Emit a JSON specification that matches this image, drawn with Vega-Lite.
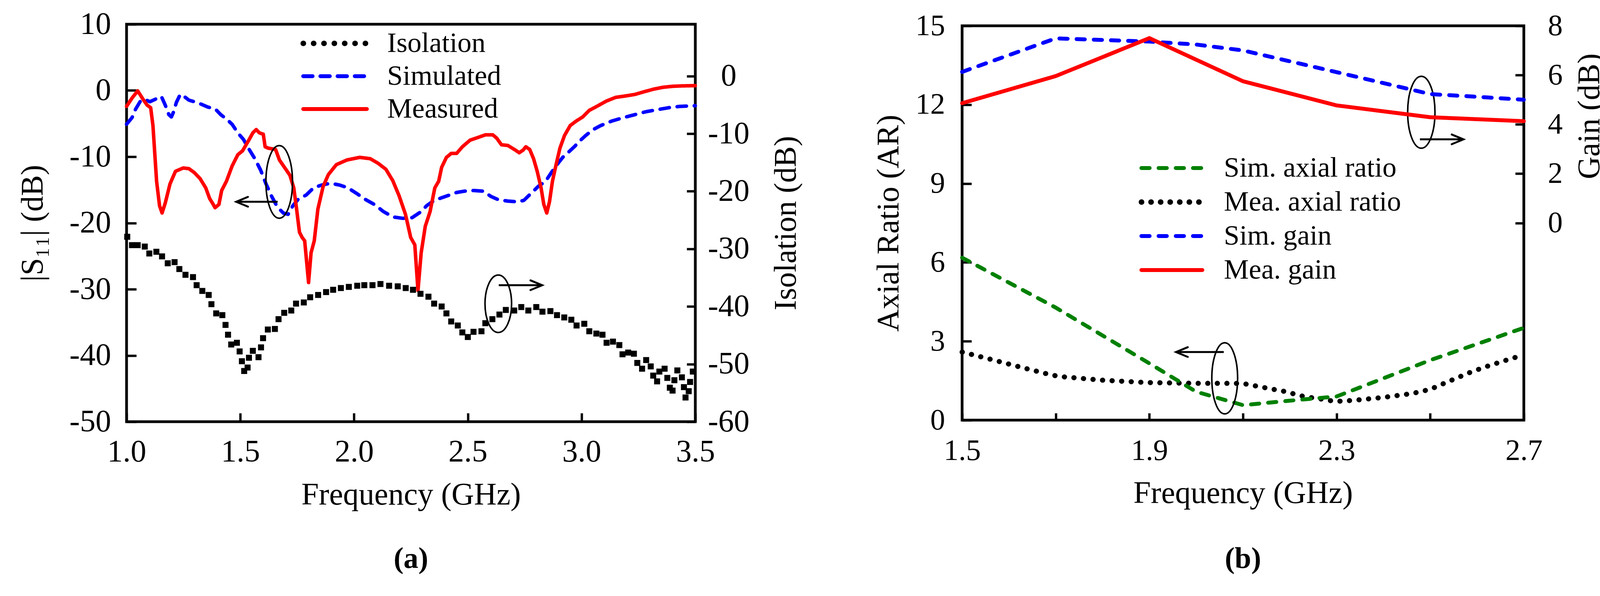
{
  "$schema": "https://vega.github.io/schema/vega-lite/v6.json",
  "background": "white",
  "padding": {"left": 40, "top": 18, "right": 90, "bottom": 80},
  "config": {
    "font": "Liberation Serif",
    "view": {"stroke": "black", "strokeWidth": 7},
    "axis": {
      "grid": false, "domain": false, "tickColor": "black", "tickWidth": 6,
      "labelColor": "black", "titleColor": "black", "labelFont": "Liberation Serif",
      "titleFont": "Liberation Serif", "titleFontWeight": "normal", "labelFontSize": 80,
      "titleFontSize": 80, "labelFlush": false, "labelOverlap": false, "labelBound": false
    },
    "legend": {"labelFont": "Liberation Serif", "labelColor": "black", "labelLimit": 0, "padding": 0},
    "title": {"font": "Liberation Serif", "color": "black"}
  },
  "datasets": {
    "s11": [
      {"series": "Simulated", "freq": 1.0, "s11": -5.1},
      {"series": "Simulated", "freq": 1.024, "s11": -4.1},
      {"series": "Simulated", "freq": 1.04, "s11": -2.8},
      {"series": "Simulated", "freq": 1.061, "s11": -1.6},
      {"series": "Simulated", "freq": 1.082, "s11": -1.36},
      {"series": "Simulated", "freq": 1.102, "s11": -1.7},
      {"series": "Simulated", "freq": 1.124, "s11": -1.36},
      {"series": "Simulated", "freq": 1.153, "s11": -0.9},
      {"series": "Simulated", "freq": 1.17, "s11": -2.2},
      {"series": "Simulated", "freq": 1.186, "s11": -3.65},
      {"series": "Simulated", "freq": 1.197, "s11": -4.0},
      {"series": "Simulated", "freq": 1.207, "s11": -3.2},
      {"series": "Simulated", "freq": 1.219, "s11": -1.8},
      {"series": "Simulated", "freq": 1.236, "s11": -0.6},
      {"series": "Simulated", "freq": 1.253, "s11": -0.9},
      {"series": "Simulated", "freq": 1.274, "s11": -1.46},
      {"series": "Simulated", "freq": 1.298, "s11": -1.7},
      {"series": "Simulated", "freq": 1.323, "s11": -2.0},
      {"series": "Simulated", "freq": 1.357, "s11": -2.5},
      {"series": "Simulated", "freq": 1.39, "s11": -2.8},
      {"series": "Simulated", "freq": 1.414, "s11": -3.65},
      {"series": "Simulated", "freq": 1.439, "s11": -4.3},
      {"series": "Simulated", "freq": 1.464, "s11": -5.1},
      {"series": "Simulated", "freq": 1.489, "s11": -6.4},
      {"series": "Simulated", "freq": 1.514, "s11": -7.4},
      {"series": "Simulated", "freq": 1.539, "s11": -8.9},
      {"series": "Simulated", "freq": 1.564, "s11": -10.3},
      {"series": "Simulated", "freq": 1.589, "s11": -12.0},
      {"series": "Simulated", "freq": 1.613, "s11": -14.1},
      {"series": "Simulated", "freq": 1.638, "s11": -16.0},
      {"series": "Simulated", "freq": 1.663, "s11": -17.6},
      {"series": "Simulated", "freq": 1.689, "s11": -18.5},
      {"series": "Simulated", "freq": 1.71, "s11": -18.7},
      {"series": "Simulated", "freq": 1.731, "s11": -17.4},
      {"series": "Simulated", "freq": 1.755, "s11": -16.4},
      {"series": "Simulated", "freq": 1.789, "s11": -15.8},
      {"series": "Simulated", "freq": 1.822, "s11": -14.7},
      {"series": "Simulated", "freq": 1.855, "s11": -14.3},
      {"series": "Simulated", "freq": 1.897, "s11": -14.0},
      {"series": "Simulated", "freq": 1.939, "s11": -14.3},
      {"series": "Simulated", "freq": 1.973, "s11": -14.7},
      {"series": "Simulated", "freq": 2.014, "s11": -15.6},
      {"series": "Simulated", "freq": 2.047, "s11": -16.4},
      {"series": "Simulated", "freq": 2.089, "s11": -17.2},
      {"series": "Simulated", "freq": 2.13, "s11": -18.3},
      {"series": "Simulated", "freq": 2.172, "s11": -19.1},
      {"series": "Simulated", "freq": 2.214, "s11": -19.3},
      {"series": "Simulated", "freq": 2.255, "s11": -19.2},
      {"series": "Simulated", "freq": 2.294, "s11": -18.3},
      {"series": "Simulated", "freq": 2.319, "s11": -17.4},
      {"series": "Simulated", "freq": 2.352, "s11": -16.6},
      {"series": "Simulated", "freq": 2.385, "s11": -16.2},
      {"series": "Simulated", "freq": 2.418, "s11": -15.8},
      {"series": "Simulated", "freq": 2.451, "s11": -15.4},
      {"series": "Simulated", "freq": 2.485, "s11": -15.2},
      {"series": "Simulated", "freq": 2.527, "s11": -15.1},
      {"series": "Simulated", "freq": 2.568, "s11": -15.2},
      {"series": "Simulated", "freq": 2.602, "s11": -16.0},
      {"series": "Simulated", "freq": 2.635, "s11": -16.5},
      {"series": "Simulated", "freq": 2.676, "s11": -16.7},
      {"series": "Simulated", "freq": 2.717, "s11": -16.8},
      {"series": "Simulated", "freq": 2.746, "s11": -16.6},
      {"series": "Simulated", "freq": 2.776, "s11": -15.6},
      {"series": "Simulated", "freq": 2.809, "s11": -14.5},
      {"series": "Simulated", "freq": 2.842, "s11": -13.7},
      {"series": "Simulated", "freq": 2.867, "s11": -12.4},
      {"series": "Simulated", "freq": 2.892, "s11": -11.2},
      {"series": "Simulated", "freq": 2.917, "s11": -10.1},
      {"series": "Simulated", "freq": 2.943, "s11": -9.3},
      {"series": "Simulated", "freq": 2.968, "s11": -8.5},
      {"series": "Simulated", "freq": 2.993, "s11": -7.6},
      {"series": "Simulated", "freq": 3.018, "s11": -6.8},
      {"series": "Simulated", "freq": 3.051, "s11": -5.9},
      {"series": "Simulated", "freq": 3.084, "s11": -5.3},
      {"series": "Simulated", "freq": 3.134, "s11": -4.6},
      {"series": "Simulated", "freq": 3.184, "s11": -4.1},
      {"series": "Simulated", "freq": 3.234, "s11": -3.65},
      {"series": "Simulated", "freq": 3.284, "s11": -3.2},
      {"series": "Simulated", "freq": 3.333, "s11": -2.9},
      {"series": "Simulated", "freq": 3.383, "s11": -2.6},
      {"series": "Simulated", "freq": 3.432, "s11": -2.4},
      {"series": "Simulated", "freq": 3.5, "s11": -2.3},
      {"series": "Measured", "freq": 1.0, "s11": -2.4},
      {"series": "Measured", "freq": 1.024, "s11": -1.15},
      {"series": "Measured", "freq": 1.049, "s11": -0.06},
      {"series": "Measured", "freq": 1.073, "s11": -1.36},
      {"series": "Measured", "freq": 1.09, "s11": -2.2},
      {"series": "Measured", "freq": 1.106, "s11": -2.6},
      {"series": "Measured", "freq": 1.116, "s11": -5.3},
      {"series": "Measured", "freq": 1.124, "s11": -9.5},
      {"series": "Measured", "freq": 1.132, "s11": -13.7},
      {"series": "Measured", "freq": 1.145, "s11": -17.4},
      {"series": "Measured", "freq": 1.156, "s11": -18.5},
      {"series": "Measured", "freq": 1.17, "s11": -17.0},
      {"series": "Measured", "freq": 1.191, "s11": -14.1},
      {"series": "Measured", "freq": 1.215, "s11": -12.2},
      {"series": "Measured", "freq": 1.249, "s11": -11.7},
      {"series": "Measured", "freq": 1.274, "s11": -11.8},
      {"series": "Measured", "freq": 1.298, "s11": -12.4},
      {"series": "Measured", "freq": 1.323, "s11": -13.3},
      {"series": "Measured", "freq": 1.348, "s11": -14.7},
      {"series": "Measured", "freq": 1.365, "s11": -16.3},
      {"series": "Measured", "freq": 1.381, "s11": -17.2},
      {"series": "Measured", "freq": 1.389, "s11": -17.7},
      {"series": "Measured", "freq": 1.406, "s11": -17.2},
      {"series": "Measured", "freq": 1.418, "s11": -15.1},
      {"series": "Measured", "freq": 1.439, "s11": -13.7},
      {"series": "Measured", "freq": 1.464, "s11": -11.4},
      {"series": "Measured", "freq": 1.489, "s11": -9.7},
      {"series": "Measured", "freq": 1.51, "s11": -9.1},
      {"series": "Measured", "freq": 1.539, "s11": -7.4},
      {"series": "Measured", "freq": 1.555, "s11": -6.4},
      {"series": "Measured", "freq": 1.57, "s11": -5.9},
      {"series": "Measured", "freq": 1.584, "s11": -6.4},
      {"series": "Measured", "freq": 1.601, "s11": -6.6},
      {"series": "Measured", "freq": 1.609, "s11": -8.5},
      {"series": "Measured", "freq": 1.622, "s11": -8.7},
      {"series": "Measured", "freq": 1.655, "s11": -8.9},
      {"series": "Measured", "freq": 1.672, "s11": -10.5},
      {"series": "Measured", "freq": 1.698, "s11": -11.8},
      {"series": "Measured", "freq": 1.718, "s11": -12.8},
      {"series": "Measured", "freq": 1.735, "s11": -14.7},
      {"series": "Measured", "freq": 1.747, "s11": -17.8},
      {"series": "Measured", "freq": 1.76, "s11": -21.4},
      {"series": "Measured", "freq": 1.772, "s11": -22.2},
      {"series": "Measured", "freq": 1.783, "s11": -22.7},
      {"series": "Measured", "freq": 1.8, "s11": -29.0},
      {"series": "Measured", "freq": 1.811, "s11": -24.5},
      {"series": "Measured", "freq": 1.825, "s11": -22.7},
      {"series": "Measured", "freq": 1.841, "s11": -17.9},
      {"series": "Measured", "freq": 1.864, "s11": -14.5},
      {"series": "Measured", "freq": 1.887, "s11": -12.7},
      {"series": "Measured", "freq": 1.922, "s11": -11.2},
      {"series": "Measured", "freq": 1.968, "s11": -10.5},
      {"series": "Measured", "freq": 2.025, "s11": -10.1},
      {"series": "Measured", "freq": 2.071, "s11": -10.3},
      {"series": "Measured", "freq": 2.106, "s11": -11.0},
      {"series": "Measured", "freq": 2.14, "s11": -11.9},
      {"series": "Measured", "freq": 2.17, "s11": -13.6},
      {"series": "Measured", "freq": 2.198, "s11": -15.9},
      {"series": "Measured", "freq": 2.226, "s11": -18.7},
      {"series": "Measured", "freq": 2.249, "s11": -22.2},
      {"series": "Measured", "freq": 2.267, "s11": -23.3},
      {"series": "Measured", "freq": 2.281, "s11": -30.2},
      {"series": "Measured", "freq": 2.295, "s11": -24.5},
      {"series": "Measured", "freq": 2.313, "s11": -20.5},
      {"series": "Measured", "freq": 2.334, "s11": -18.3},
      {"series": "Measured", "freq": 2.355, "s11": -14.7},
      {"series": "Measured", "freq": 2.372, "s11": -13.7},
      {"series": "Measured", "freq": 2.385, "s11": -11.6},
      {"series": "Measured", "freq": 2.406, "s11": -10.1},
      {"series": "Measured", "freq": 2.427, "s11": -9.5},
      {"series": "Measured", "freq": 2.451, "s11": -9.5},
      {"series": "Measured", "freq": 2.476, "s11": -8.5},
      {"series": "Measured", "freq": 2.51, "s11": -7.5},
      {"series": "Measured", "freq": 2.544, "s11": -7.1},
      {"series": "Measured", "freq": 2.577, "s11": -6.7},
      {"series": "Measured", "freq": 2.61, "s11": -6.7},
      {"series": "Measured", "freq": 2.627, "s11": -7.2},
      {"series": "Measured", "freq": 2.648, "s11": -8.2},
      {"series": "Measured", "freq": 2.676, "s11": -8.3},
      {"series": "Measured", "freq": 2.709, "s11": -9.0},
      {"series": "Measured", "freq": 2.726, "s11": -9.4},
      {"series": "Measured", "freq": 2.743, "s11": -9.0},
      {"series": "Measured", "freq": 2.755, "s11": -8.5},
      {"series": "Measured", "freq": 2.772, "s11": -8.9},
      {"series": "Measured", "freq": 2.789, "s11": -10.3},
      {"series": "Measured", "freq": 2.805, "s11": -12.2},
      {"series": "Measured", "freq": 2.822, "s11": -14.7},
      {"series": "Measured", "freq": 2.834, "s11": -17.2},
      {"series": "Measured", "freq": 2.847, "s11": -18.5},
      {"series": "Measured", "freq": 2.859, "s11": -16.8},
      {"series": "Measured", "freq": 2.872, "s11": -13.7},
      {"series": "Measured", "freq": 2.888, "s11": -11.2},
      {"series": "Measured", "freq": 2.905, "s11": -8.7},
      {"series": "Measured", "freq": 2.925, "s11": -6.8},
      {"series": "Measured", "freq": 2.95, "s11": -5.3},
      {"series": "Measured", "freq": 2.977, "s11": -4.6},
      {"series": "Measured", "freq": 3.005, "s11": -4.0},
      {"series": "Measured", "freq": 3.034, "s11": -3.0},
      {"series": "Measured", "freq": 3.067, "s11": -2.4},
      {"series": "Measured", "freq": 3.109, "s11": -1.6},
      {"series": "Measured", "freq": 3.15, "s11": -1.04},
      {"series": "Measured", "freq": 3.193, "s11": -0.83},
      {"series": "Measured", "freq": 3.234, "s11": -0.6},
      {"series": "Measured", "freq": 3.276, "s11": -0.18},
      {"series": "Measured", "freq": 3.317, "s11": 0.2},
      {"series": "Measured", "freq": 3.358, "s11": 0.48},
      {"series": "Measured", "freq": 3.4, "s11": 0.63},
      {"series": "Measured", "freq": 3.441, "s11": 0.69},
      {"series": "Measured", "freq": 3.5, "s11": 0.73}
    ],
    "iso": [
      {"freq": 1.003, "iso": -27.9}, {"freq": 1.024, "iso": -29.35}, {"freq": 1.049, "iso": -29.35},
      {"freq": 1.08, "iso": -29.6}, {"freq": 1.1, "iso": -30.8}, {"freq": 1.131, "iso": -30.5},
      {"freq": 1.156, "iso": -31.3}, {"freq": 1.181, "iso": -32.5}, {"freq": 1.211, "iso": -32.3},
      {"freq": 1.232, "iso": -33.5}, {"freq": 1.259, "iso": -34.5}, {"freq": 1.292, "iso": -34.9},
      {"freq": 1.308, "iso": -36.3}, {"freq": 1.333, "iso": -37.3}, {"freq": 1.361, "iso": -38.0},
      {"freq": 1.373, "iso": -39.6}, {"freq": 1.394, "iso": -41.2}, {"freq": 1.421, "iso": -41.5},
      {"freq": 1.435, "iso": -43.2}, {"freq": 1.446, "iso": -44.9}, {"freq": 1.46, "iso": -46.6},
      {"freq": 1.485, "iso": -46.3}, {"freq": 1.497, "iso": -47.8}, {"freq": 1.507, "iso": -49.5},
      {"freq": 1.517, "iso": -51.2}, {"freq": 1.532, "iso": -50.6}, {"freq": 1.538, "iso": -48.9},
      {"freq": 1.555, "iso": -47.7}, {"freq": 1.58, "iso": -48.8}, {"freq": 1.591, "iso": -47.1},
      {"freq": 1.6, "iso": -45.5}, {"freq": 1.621, "iso": -44.0}, {"freq": 1.652, "iso": -43.9},
      {"freq": 1.668, "iso": -42.2}, {"freq": 1.693, "iso": -41.1}, {"freq": 1.724, "iso": -40.7},
      {"freq": 1.745, "iso": -39.5}, {"freq": 1.779, "iso": -39.3}, {"freq": 1.807, "iso": -38.4},
      {"freq": 1.842, "iso": -38.0}, {"freq": 1.877, "iso": -37.5}, {"freq": 1.908, "iso": -37.1},
      {"freq": 1.942, "iso": -36.8}, {"freq": 1.977, "iso": -36.6}, {"freq": 2.014, "iso": -36.4},
      {"freq": 2.045, "iso": -36.3}, {"freq": 2.081, "iso": -36.3}, {"freq": 2.116, "iso": -36.1},
      {"freq": 2.154, "iso": -36.4}, {"freq": 2.192, "iso": -36.5}, {"freq": 2.227, "iso": -36.8},
      {"freq": 2.259, "iso": -37.1}, {"freq": 2.292, "iso": -37.8}, {"freq": 2.327, "iso": -38.3},
      {"freq": 2.352, "iso": -39.5}, {"freq": 2.385, "iso": -40.0}, {"freq": 2.406, "iso": -41.2},
      {"freq": 2.427, "iso": -42.6}, {"freq": 2.456, "iso": -43.3}, {"freq": 2.476, "iso": -44.5},
      {"freq": 2.5, "iso": -45.3}, {"freq": 2.525, "iso": -44.4}, {"freq": 2.56, "iso": -44.3},
      {"freq": 2.577, "iso": -42.9}, {"freq": 2.608, "iso": -42.2}, {"freq": 2.639, "iso": -41.4},
      {"freq": 2.667, "iso": -40.6}, {"freq": 2.704, "iso": -40.7}, {"freq": 2.735, "iso": -40.1},
      {"freq": 2.766, "iso": -40.7}, {"freq": 2.801, "iso": -40.1}, {"freq": 2.828, "iso": -40.9},
      {"freq": 2.863, "iso": -40.8}, {"freq": 2.892, "iso": -41.5}, {"freq": 2.924, "iso": -41.9},
      {"freq": 2.955, "iso": -42.3}, {"freq": 2.978, "iso": -43.3}, {"freq": 3.012, "iso": -43.0},
      {"freq": 3.034, "iso": -44.3}, {"freq": 3.065, "iso": -44.7}, {"freq": 3.092, "iso": -44.9},
      {"freq": 3.11, "iso": -46.3}, {"freq": 3.138, "iso": -46.1}, {"freq": 3.166, "iso": -46.7},
      {"freq": 3.18, "iso": -48.3}, {"freq": 3.205, "iso": -48.0}, {"freq": 3.23, "iso": -48.2},
      {"freq": 3.245, "iso": -49.8}, {"freq": 3.266, "iso": -50.8}, {"freq": 3.284, "iso": -49.3},
      {"freq": 3.304, "iso": -50.4}, {"freq": 3.315, "iso": -52.0}, {"freq": 3.332, "iso": -53.0},
      {"freq": 3.342, "iso": -51.3}, {"freq": 3.365, "iso": -50.8}, {"freq": 3.377, "iso": -52.4},
      {"freq": 3.388, "iso": -54.1}, {"freq": 3.4, "iso": -54.6}, {"freq": 3.408, "iso": -52.8},
      {"freq": 3.421, "iso": -51.1}, {"freq": 3.441, "iso": -52.3}, {"freq": 3.45, "iso": -54.0},
      {"freq": 3.457, "iso": -55.8}, {"freq": 3.471, "iso": -54.7}, {"freq": 3.477, "iso": -53.1},
      {"freq": 3.489, "iso": -51.3}
    ],
    "ar": [
      {"series": "Mea. axial ratio", "freq": 1.5, "ar": 2.59},
      {"series": "Mea. axial ratio", "freq": 1.562, "ar": 2.31},
      {"series": "Mea. axial ratio", "freq": 1.626, "ar": 2.01},
      {"series": "Mea. axial ratio", "freq": 1.688, "ar": 1.73},
      {"series": "Mea. axial ratio", "freq": 1.708, "ar": 1.66},
      {"series": "Mea. axial ratio", "freq": 1.799, "ar": 1.52},
      {"series": "Mea. axial ratio", "freq": 1.894, "ar": 1.43},
      {"series": "Mea. axial ratio", "freq": 1.996, "ar": 1.4},
      {"series": "Mea. axial ratio", "freq": 2.082, "ar": 1.4},
      {"series": "Mea. axial ratio", "freq": 2.104, "ar": 1.38},
      {"series": "Mea. axial ratio", "freq": 2.145, "ar": 1.24},
      {"series": "Mea. axial ratio", "freq": 2.189, "ar": 1.09},
      {"series": "Mea. axial ratio", "freq": 2.232, "ar": 0.89},
      {"series": "Mea. axial ratio", "freq": 2.272, "ar": 0.79},
      {"series": "Mea. axial ratio", "freq": 2.296, "ar": 0.71},
      {"series": "Mea. axial ratio", "freq": 2.335, "ar": 0.75},
      {"series": "Mea. axial ratio", "freq": 2.398, "ar": 0.86},
      {"series": "Mea. axial ratio", "freq": 2.461, "ar": 1.01},
      {"series": "Mea. axial ratio", "freq": 2.5, "ar": 1.17},
      {"series": "Mea. axial ratio", "freq": 2.539, "ar": 1.47},
      {"series": "Mea. axial ratio", "freq": 2.587, "ar": 1.83},
      {"series": "Mea. axial ratio", "freq": 2.627, "ar": 2.08},
      {"series": "Mea. axial ratio", "freq": 2.673, "ar": 2.34},
      {"series": "Mea. axial ratio", "freq": 2.7, "ar": 2.48},
      {"series": "Sim. axial ratio", "freq": 1.5, "ar": 6.18},
      {"series": "Sim. axial ratio", "freq": 1.7, "ar": 4.28},
      {"series": "Sim. axial ratio", "freq": 1.9, "ar": 2.16},
      {"series": "Sim. axial ratio", "freq": 2.0, "ar": 1.08},
      {"series": "Sim. axial ratio", "freq": 2.1, "ar": 0.57},
      {"series": "Sim. axial ratio", "freq": 2.2, "ar": 0.74},
      {"series": "Sim. axial ratio", "freq": 2.3, "ar": 0.9},
      {"series": "Sim. axial ratio", "freq": 2.5, "ar": 2.28},
      {"series": "Sim. axial ratio", "freq": 2.7, "ar": 3.51}
    ],
    "gain": [
      {"series": "Sim. gain", "freq": 1.5, "gain": 6.13},
      {"series": "Sim. gain", "freq": 1.7, "gain": 7.49},
      {"series": "Sim. gain", "freq": 1.9, "gain": 7.36},
      {"series": "Sim. gain", "freq": 2.0, "gain": 7.24},
      {"series": "Sim. gain", "freq": 2.1, "gain": 7.0},
      {"series": "Sim. gain", "freq": 2.3, "gain": 6.12},
      {"series": "Sim. gain", "freq": 2.5, "gain": 5.23},
      {"series": "Sim. gain", "freq": 2.6, "gain": 5.12},
      {"series": "Sim. gain", "freq": 2.7, "gain": 5.0},
      {"series": "Mea. gain", "freq": 1.5, "gain": 4.86},
      {"series": "Mea. gain", "freq": 1.7, "gain": 5.96},
      {"series": "Mea. gain", "freq": 1.9, "gain": 7.5},
      {"series": "Mea. gain", "freq": 2.1, "gain": 5.75},
      {"series": "Mea. gain", "freq": 2.3, "gain": 4.77},
      {"series": "Mea. gain", "freq": 2.5, "gain": 4.29},
      {"series": "Mea. gain", "freq": 2.7, "gain": 4.13}
    ]
  },
  "bounds": "flush",
  "spacing": 683,
  "center": true,
  "resolve": {"scale": {"color": "independent", "strokeDash": "independent"}},
  "hconcat": [
    {
      "width": 1456,
      "height": 1017,
      "title": {"text": "(a)", "orient": "bottom", "frame": "group", "anchor": "middle", "offset": 87, "fontSize": 76, "fontWeight": "bold", "baseline": "top"},
      "encoding": {
        "x": {
          "field": "freq", "type": "quantitative", "scale": {"domain": [1, 3.5], "nice": false, "zero": false},
          "axis": {
            "title": "Frequency (GHz)", "values": [1, 1.5, 2, 2.5, 3, 3.5], "labelExpr": "format(datum.value, '.1f')",
            "tickSize": -22, "labelPadding": 123, "labelBaseline": "alphabetic", "titleY": 187, "titleBaseline": "middle"
          }
        }
      },
      "layer": [
        {
          "encoding": {
            "y": {
              "field": "s11", "type": "quantitative", "scale": {"domain": [-50, 10], "nice": false, "zero": false},
              "axis": {
                "title": "|S₁₁| (dB)", "values": [-50, -40, -30, -20, -10, 0, 10], "labelExpr": "toString(datum.value)",
                "tickSize": -25, "labelPadding": 65, "titleX": -240, "titleBaseline": "middle"
              }
            }
          },
          "layer": [
            {
              "data": {"name": "s11"},
              "mark": {"type": "line", "strokeWidth": 9, "strokeCap": "round", "strokeJoin": "round"},
              "encoding": {
                "color": {
                  "field": "series", "type": "nominal",
                  "scale": {"domain": ["Isolation", "Simulated", "Measured"], "range": ["#000000", "#0000ff", "#ff0000"]},
                  "legend": {
                    "orient": "none", "legendX": 552, "legendY": 13, "title": null, "symbolType": "M-5,0L1,0",
                    "symbolSize": 2950, "symbolStrokeWidth": 10, "labelFontSize": 72, "labelOffset": 43, "rowPadding": 12,
                    "encode": {"symbols": {"update": {"strokeCap": {"value": "round"}, "strokeWidth": {"signal": "datum.value === 'Isolation' ? 14 : 10"}}}}
                  }
                },
                "strokeDash": {
                  "field": "series", "type": "nominal",
                  "scale": {"domain": ["Isolation", "Simulated", "Measured"], "range": [[0.5, 26], [24, 20], [1, 0]]},
                  "legend": {
                    "orient": "none", "legendX": 552, "legendY": 13, "title": null, "symbolType": "M-5,0L1,0",
                    "symbolSize": 2950, "symbolStrokeWidth": 10, "labelFontSize": 72, "labelOffset": 43, "rowPadding": 12,
                    "encode": {"symbols": {"update": {"strokeCap": {"value": "round"}, "strokeWidth": {"signal": "datum.value === 'Isolation' ? 14 : 10"}}}}
                  }
                }
              }
            },
            {
              "data": {"values": [{"freq": 1.671, "s11": -13.8}]},
              "mark": {"type": "point", "shape": "M0,-1 A0.366 1 0 1 1 0 1 A0.366 1 0 1 1 0 -1 Z", "size": 34596, "filled": false, "stroke": "black", "strokeWidth": 4, "opacity": 1},
              "encoding": {}
            },
            {
              "data": {"values": [{"freq": 2.634, "s11": -32.2}]},
              "mark": {"type": "point", "shape": "M0,-1 A0.463 1 0 1 1 0 1 A0.463 1 0 1 1 0 -1 Z", "size": 21609, "filled": false, "stroke": "black", "strokeWidth": 4, "opacity": 1},
              "encoding": {}
            },
            {
              "data": {"values": [{"freq": 1.482, "freq2": 1.664, "s11": -16.8}, {"freq": 2.827, "freq2": 2.636, "s11": -29.4}]},
              "mark": {"type": "rule", "strokeWidth": 5, "color": "black"},
              "encoding": {"x2": {"field": "freq2"}}
            },
            {
              "data": {"values": [{"freq": 1.482, "s11": -16.8}]},
              "mark": {"type": "point", "shape": "M2,-0.83 L0,0 L2,0.83", "size": 900, "filled": false, "stroke": "black", "strokeWidth": 5, "strokeCap": "round", "opacity": 1},
              "encoding": {}
            },
            {
              "data": {"values": [{"freq": 2.827, "s11": -29.4}]},
              "mark": {"type": "point", "shape": "M-2,-0.83 L0,0 L-2,0.83", "size": 900, "filled": false, "stroke": "black", "strokeWidth": 5, "strokeCap": "round", "opacity": 1},
              "encoding": {}
            }
          ]
        },
        {
          "data": {"name": "iso"},
          "mark": {"type": "square", "size": 235, "color": "black", "opacity": 1},
          "encoding": {
            "y": {
              "field": "iso", "type": "quantitative", "scale": {"domain": [-60, 9], "nice": false, "zero": false},
              "axis": {
                "orient": "right", "title": "Isolation (dB)", "values": [-60, -50, -40, -30, -20, -10, 0],
                "labelExpr": "toString(datum.value)", "tickSize": -22, "labelPadding": 107, "labelAlign": "center",
                "titleX": 232, "titleAngle": 270, "titleBaseline": "middle"
              }
            }
          }
        }
      ],
      "resolve": {"scale": {"y": "independent"}}
    },
    {
      "width": 1438,
      "height": 1009,
      "title": {"text": "(b)", "orient": "bottom", "frame": "group", "anchor": "middle", "offset": 91, "fontSize": 76, "fontWeight": "bold", "baseline": "top"},
      "encoding": {
        "x": {
          "field": "freq", "type": "quantitative", "scale": {"domain": [1.5, 2.7], "nice": false, "zero": false},
          "axis": {
            "title": "Frequency (GHz)", "values": [1.5, 1.7, 1.9, 2.1, 2.3, 2.5, 2.7],
            "labelExpr": "(datum.value == 1.5 || datum.value == 1.9 || datum.value == 2.3 || datum.value == 2.7) ? format(datum.value, '.1f') : ''",
            "tickSize": -18, "labelPadding": 119, "labelBaseline": "alphabetic", "labelFontSize": 76,
            "titleY": 187, "titleBaseline": "middle"
          }
        }
      },
      "layer": [
        {
          "encoding": {
            "y": {
              "field": "ar", "type": "quantitative", "scale": {"domain": [0, 15], "nice": false},
              "axis": {
                "title": "Axial Ratio (AR)", "values": [0, 3, 6, 9, 12, 15], "labelExpr": "toString(datum.value)",
                "tickSize": -24, "labelPadding": 68, "labelFontSize": 76, "titleX": -188, "titleBaseline": "middle"
              }
            }
          },
          "layer": [
            {
              "data": {"name": "ar"},
              "mark": {"type": "line", "strokeCap": "round", "strokeJoin": "round"},
              "encoding": {
                "color": {
                  "field": "series", "type": "nominal",
                  "scale": {"domain": ["Sim. axial ratio", "Mea. axial ratio", "Sim. gain", "Mea. gain"], "range": ["#008000", "#000000", "#0000ff", "#ff0000"]},
                  "legend": {
                    "orient": "none", "legendX": 553, "legendY": 328, "title": null, "symbolType": "M-5,0L1,0",
                    "symbolSize": 2704, "symbolStrokeWidth": 10, "labelFontSize": 72, "labelOffset": 45, "rowPadding": 15,
                    "encode": {"symbols": {"update": {"strokeCap": {"value": "round"}, "strokeWidth": {"signal": "datum.value === 'Mea. axial ratio' ? 14 : 10"}}}}
                  }
                },
                "strokeDash": {
                  "field": "series", "type": "nominal",
                  "scale": {"domain": ["Sim. axial ratio", "Mea. axial ratio", "Sim. gain", "Mea. gain"], "range": [[21, 23], [0.5, 24], [21, 23], [1, 0]]},
                  "legend": {
                    "orient": "none", "legendX": 553, "legendY": 328, "title": null, "symbolType": "M-5,0L1,0",
                    "symbolSize": 2704, "symbolStrokeWidth": 10, "labelFontSize": 72, "labelOffset": 45, "rowPadding": 15,
                    "encode": {"symbols": {"update": {"strokeCap": {"value": "round"}, "strokeWidth": {"signal": "datum.value === 'Mea. axial ratio' ? 14 : 10"}}}}
                  }
                },
                "strokeWidth": {
                  "field": "series", "type": "nominal",
                  "scale": {"domain": ["Sim. axial ratio", "Mea. axial ratio"], "range": [10, 13]},
                  "legend": null
                }
              }
            },
            {
              "data": {"values": [{"freq": 2.481, "ar": 11.71}]},
              "mark": {"type": "point", "shape": "M0,-1 A0.38 1 0 1 1 0 1 A0.38 1 0 1 1 0 -1 Z", "size": 33856, "filled": false, "stroke": "black", "strokeWidth": 4, "opacity": 1},
              "encoding": {}
            },
            {
              "data": {"values": [{"freq": 2.061, "ar": 1.59}]},
              "mark": {"type": "point", "shape": "M0,-1 A0.363 1 0 1 1 0 1 A0.363 1 0 1 1 0 -1 Z", "size": 33124, "filled": false, "stroke": "black", "strokeWidth": 4, "opacity": 1},
              "encoding": {}
            },
            {
              "data": {"values": [{"freq": 2.571, "freq2": 2.478, "ar": 10.68}, {"freq": 1.957, "freq2": 2.059, "ar": 2.59}]},
              "mark": {"type": "rule", "strokeWidth": 5, "color": "black"},
              "encoding": {"x2": {"field": "freq2"}}
            },
            {
              "data": {"values": [{"freq": 1.957, "ar": 2.59}]},
              "mark": {"type": "point", "shape": "M2,-0.83 L0,0 L2,0.83", "size": 900, "filled": false, "stroke": "black", "strokeWidth": 5, "strokeCap": "round", "opacity": 1},
              "encoding": {}
            },
            {
              "data": {"values": [{"freq": 2.571, "ar": 10.68}]},
              "mark": {"type": "point", "shape": "M-2,-0.83 L0,0 L-2,0.83", "size": 900, "filled": false, "stroke": "black", "strokeWidth": 5, "strokeCap": "round", "opacity": 1},
              "encoding": {}
            }
          ]
        },
        {
          "data": {"name": "gain"},
          "mark": {"type": "line", "strokeWidth": 10, "strokeCap": "round", "strokeJoin": "round"},
          "encoding": {
            "y": {
              "field": "gain", "type": "quantitative", "scale": {"domain": [-8, 8], "nice": false, "zero": false},
              "axis": {
                "orient": "right", "title": "Gain (dB)", "values": [0, 2, 4, 6, 8], "labelExpr": "toString(datum.value)",
                "tickSize": -22, "labelPadding": 102, "labelAlign": "center", "labelFontSize": 76,
                "titleX": 168, "titleY": 231, "titleAngle": 270, "titleBaseline": "middle"
              }
            },
            "color": {
              "field": "series", "type": "nominal",
              "scale": {"domain": ["Sim. axial ratio", "Mea. axial ratio", "Sim. gain", "Mea. gain"], "range": ["#008000", "#000000", "#0000ff", "#ff0000"]},
              "legend": {
                "orient": "none", "legendX": 553, "legendY": 328, "title": null, "symbolType": "M-5,0L1,0",
                "symbolSize": 2704, "symbolStrokeWidth": 10, "labelFontSize": 72, "labelOffset": 45, "rowPadding": 15,
                "encode": {"symbols": {"update": {"strokeCap": {"value": "round"}, "strokeWidth": {"signal": "datum.value === 'Mea. axial ratio' ? 14 : 10"}}}}
              }
            },
            "strokeDash": {
              "field": "series", "type": "nominal",
              "scale": {"domain": ["Sim. axial ratio", "Mea. axial ratio", "Sim. gain", "Mea. gain"], "range": [[21, 23], [0.5, 24], [21, 23], [1, 0]]},
              "legend": {
                "orient": "none", "legendX": 553, "legendY": 328, "title": null, "symbolType": "M-5,0L1,0",
                "symbolSize": 2704, "symbolStrokeWidth": 10, "labelFontSize": 72, "labelOffset": 45, "rowPadding": 15,
                "encode": {"symbols": {"update": {"strokeCap": {"value": "round"}, "strokeWidth": {"signal": "datum.value === 'Mea. axial ratio' ? 14 : 10"}}}}
              }
            }
          }
        }
      ],
      "resolve": {"scale": {"y": "independent"}}
    }
  ]
}
